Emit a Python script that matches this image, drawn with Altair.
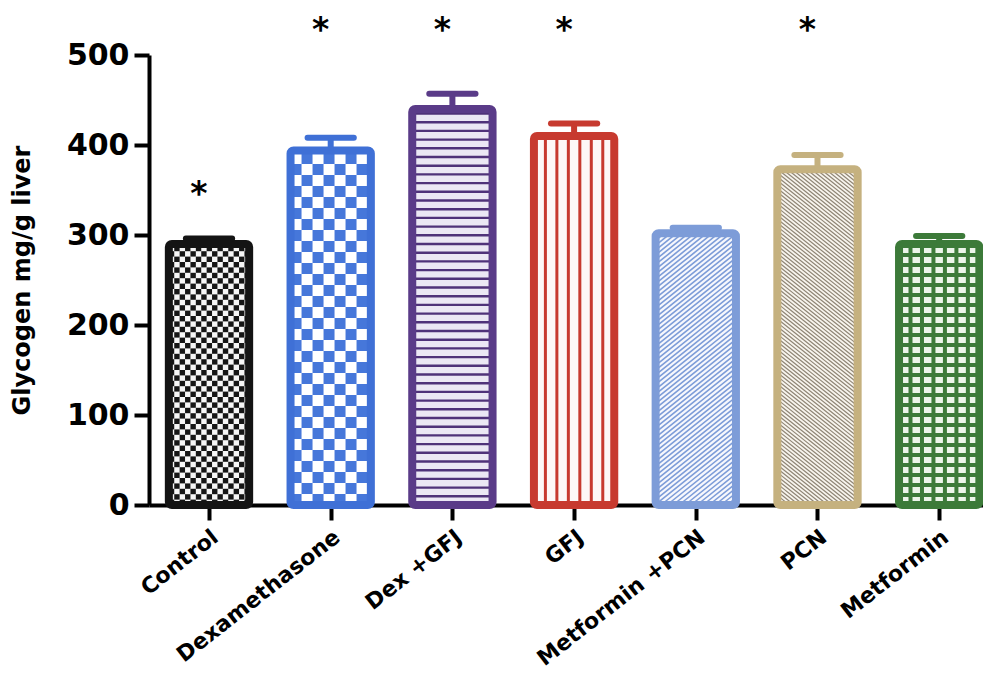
import json
import math
import altair as alt
import pandas as pd

# ---------------- data ----------------
categories = ["Control", "Dexamethasone", "Dex +GFJ", "GFJ", "Metformin +PCN", "PCN", "Metformin"]
glycogen = [290, 394, 440, 410, 302, 373, 290]
sem = [6, 14, 17, 14, 6, 16, 9]
stars = ["*", "*", "*", "*", "", "*", ""]
star_level = [356, 538, 538, 538, 538, 538, 538]
y_ticks = [0, 100, 200, 300, 400, 500]

# ---------------- styles ----------------
outline_colors = ["#141414", "#3f70d6", "#5a3b88", "#c73a2f", "#7d9cd8", "#c5b17f", "#3c7a39"]
bg_colors = ["#f6f6f6", "#ffffff", "#ebe7f4", "#fdf8f7", "#f7f8fd", "#f8f5ee", "#ecf5ea"]
pattern_colors = ["#161616", "#4677da", "#4f3279", "#c73a2f", "#7d9cd8", "#8f8575", "#3c7a39"]
pattern_kind = ["checker", "checker", "hlines", "vlines", "diag_up", "diag_down", "grid"]
pattern_size = [5.4, 11.0, 8.7, 0, 6.0, 4.8, 10.0]

X_DOMAIN = [-0.493, 6.36]
PLOT_W, PLOT_H = 834, 450
Y_MAX = 500
KX = PLOT_W / (X_DOMAIN[1] - X_DOMAIN[0])
KY = PLOT_H / Y_MAX
HW = 0.33
CAP_HW = 0.19
W = 2 * HW * KX

# ---------------- tables ----------------
bars = pd.DataFrame({
    "cat": categories,
    "i": list(range(len(categories))),
    "v": glycogen,
    "e": sem,
    "outline": outline_colors,
    "bg": bg_colors,
})

bar_rect = pd.DataFrame({
    "x": bars["i"] - HW, "x2": bars["i"] + HW,
    "y": bars["v"], "y2": 0,
    "bg": bars["bg"], "outline": bars["outline"],
})

stem = pd.DataFrame({"x": bars["i"], "y": bars["v"], "y2": bars["v"] + bars["e"], "c": bars["outline"]})
cap = pd.DataFrame({"x": bars["i"] - CAP_HW, "x2": bars["i"] + CAP_HW,
                    "y": bars["v"] + bars["e"], "c": bars["outline"]})
star_df = pd.DataFrame({"x": bars["i"], "y": star_level, "s": stars})
star_df = star_df[star_df["s"] != ""]

rect_rows, rule_rows = [], []


def add_rect(i, px0, px1, py0, py1, c):
    rect_rows.append({"x": i - HW + px0 / KX, "x2": i - HW + px1 / KX,
                      "y": py0 / KY, "y2": py1 / KY, "c": c})


def add_rule(i, px0, py0, px1, py1, c, w):
    rule_rows.append({"x": i - HW + px0 / KX, "x2": i - HW + px1 / KX,
                      "y": py0 / KY, "y2": py1 / KY, "c": c, "w": w})


for i, v in enumerate(glycogen):
    H = v * KY
    kind, s, pc = pattern_kind[i], pattern_size[i], pattern_colors[i]
    if kind == "checker":
        for r in range(math.ceil(H / s)):
            for c in range(math.ceil(W / s)):
                if (r + c) % 2 == 0:
                    add_rect(i, c * s, min(W, (c + 1) * s), r * s, min(H, (r + 1) * s), pc)
    elif kind == "hlines":
        k = 1
        while k * s < H:
            add_rect(i, 0, W, k * s - 1.2, min(H, k * s + 1.2), pc)
            k += 1
    elif kind == "vlines":
        for j in range(1, 7):
            xc = j * W / 7
            add_rect(i, xc - 1.5, xc + 1.5, 0, H, pc)
    elif kind == "grid":
        for j in range(1, 7):
            xc = j * W / 7
            add_rect(i, xc - 2, xc + 2, 0, H, pc)
        k = 1
        while k * s < H:
            add_rect(i, 0, W, k * s - 2, min(H, k * s + 2), pc)
            k += 1
    elif kind in ("diag_up", "diag_down"):
        slope = 0.8 if kind == "diag_up" else -0.8
        width = 1.6 if kind == "diag_up" else 1.2
        if slope > 0:
            b, b_end = -slope * W, H
        else:
            b, b_end = 0.0, H - slope * W
        step = abs(slope) * s
        b += step / 2
        while b < b_end:
            xa = -b / slope
            xb = (H - b) / slope
            lo = max(0.0, min(xa, xb))
            hi = min(W, max(xa, xb))
            if hi > lo:
                add_rule(i, lo, slope * lo + b, hi, slope * hi + b, pc, width)
            b += step

pat_rects = pd.DataFrame(rect_rows)
pat_rules = pd.DataFrame(rule_rows)

# ---------------- encodings ----------------
label_expr = "[" + ",".join(json.dumps(c) for c in categories) + "][datum.value]"

xs = alt.Scale(domain=X_DOMAIN, nice=False, zero=False)
ys = alt.Scale(domain=[0, Y_MAX], nice=False)

x_axis = alt.Axis(
    values=list(range(len(categories))), labelExpr=label_expr, title=None, grid=False,
    domainColor="black", domainWidth=4, tickColor="black", tickWidth=4, tickSize=15,
    labelAngle=-38, labelAlign="right", labelBaseline="middle",
    labelFont="DejaVu Sans", labelFontWeight="bold", labelFontSize=22, labelColor="black",
    labelPadding=14, labelOffset=6, labelOverlap=False, labelFlush=False, labelBound=False,
    labelLimit=0,
)
y_axis = alt.Axis(
    values=y_ticks, title="Glycogen mg/g liver", grid=False,
    domainColor="black", domainWidth=4, tickColor="black", tickWidth=4, tickSize=15,
    labelFont="DejaVu Sans", labelFontWeight="bold", labelFontSize=30, labelColor="black",
    labelPadding=5,
    titleFont="DejaVu Sans", titleFontWeight="bold", titleFontSize=24, titleColor="black",
    titleX=-127, titleY=PLOT_H / 2, titleAngle=-90, titleAlign="center", titleBaseline="middle",
)

X = alt.X("x:Q", scale=xs, axis=x_axis)
Y = alt.Y("y:Q", scale=ys, axis=y_axis)

bg_layer = alt.Chart(bar_rect).mark_rect().encode(
    x=X, x2="x2:Q", y=Y, y2="y2:Q", fill=alt.Fill("bg:N", scale=None))

pat_rect_layer = alt.Chart(pat_rects).mark_rect().encode(
    x=X, x2="x2:Q", y=Y, y2="y2:Q", fill=alt.Fill("c:N", scale=None))

pat_rule_layer = alt.Chart(pat_rules).mark_rule().encode(
    x=X, x2="x2:Q", y=Y, y2="y2:Q", color=alt.Color("c:N", scale=None),
    strokeWidth=alt.StrokeWidth("w:Q", scale=None))

outline_layer = alt.Chart(bar_rect).mark_rect(fillOpacity=0, strokeWidth=8, cornerRadius=3).encode(
    x=X, x2="x2:Q", y=Y, y2="y2:Q", stroke=alt.Stroke("outline:N", scale=None))

stem_layer = alt.Chart(stem).mark_rule(strokeWidth=6).encode(
    x=X, y=Y, y2="y2:Q", color=alt.Color("c:N", scale=None))

cap_layer = alt.Chart(cap).mark_rule(strokeWidth=6, strokeCap="round").encode(
    x=X, x2="x2:Q", y=Y, color=alt.Color("c:N", scale=None))

star_layer = alt.Chart(star_df).mark_text(
    font="DejaVu Sans", fontWeight="bold", fontSize=33, color="black",
    baseline="alphabetic", dy=20, dx=-10,
).encode(x=X, y=Y, text="s:N")

chart = alt.layer(
    bg_layer, pat_rect_layer, pat_rule_layer, outline_layer, stem_layer, cap_layer, star_layer
).properties(
    width=PLOT_W, height=PLOT_H,
    autosize=alt.AutoSizeParams(type="none"),
    padding={"left": 141, "top": 47, "right": 0, "bottom": 168},
    background="white",
).configure_view(stroke=None)

chart.save("out.html", embed_options={"renderer": "svg", "actions": False})
